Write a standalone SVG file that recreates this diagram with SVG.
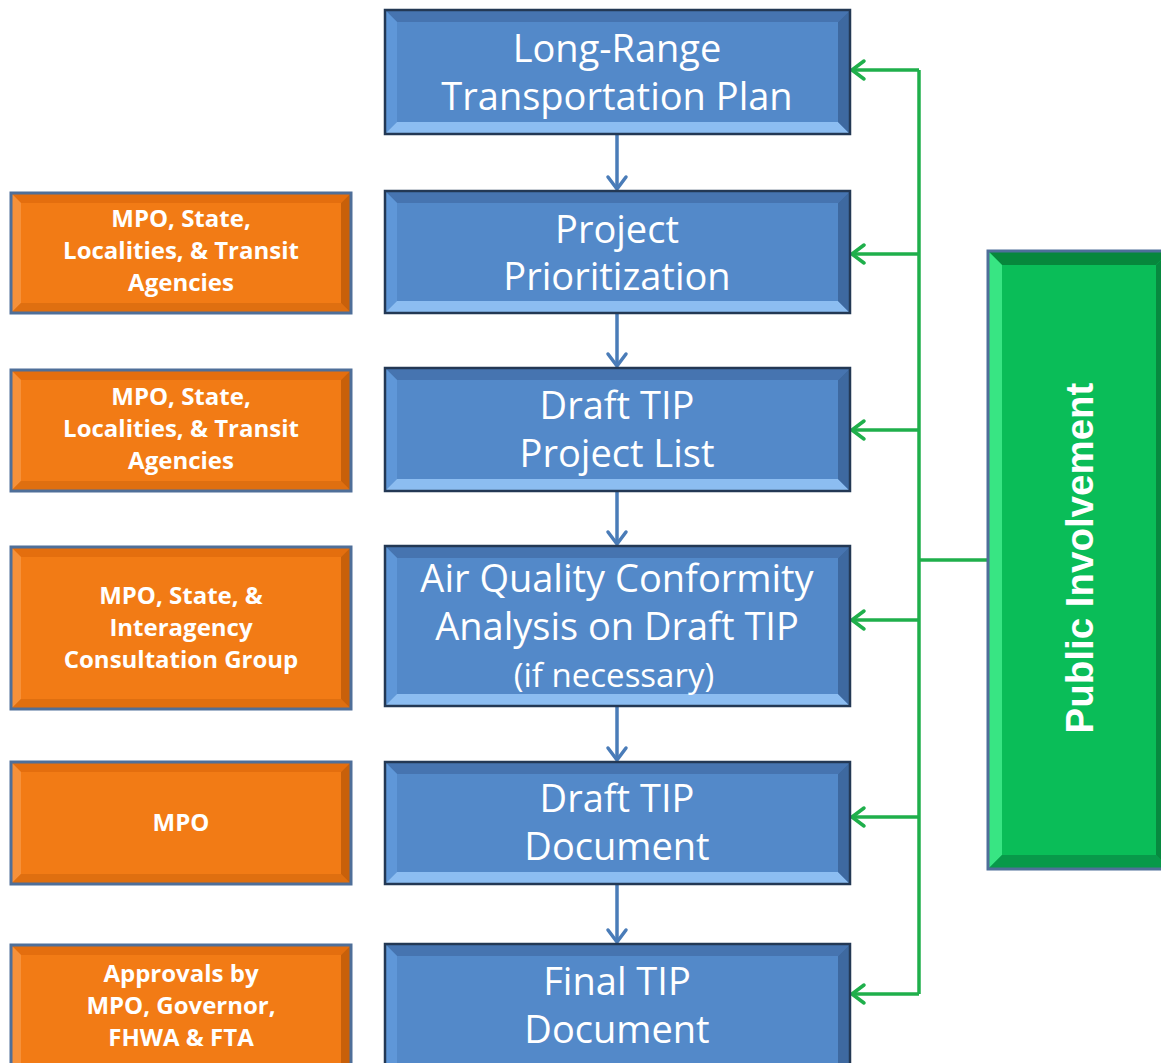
<svg xmlns="http://www.w3.org/2000/svg" width="1161" height="1063" viewBox="0 0 1161 1063">
<defs>
<style>
.blue .f{fill:#5389c9}
.blue .t{fill:#4674b0}
.blue .l{fill:#5f97d8}
.blue .b{fill:#8cbdf1}
.blue .r{fill:#3e69a0}
.blue .o{fill:none;stroke:#233854;stroke-width:2.5}
.org .f{fill:#f27b15}
.org .t{fill:#e46e0e}
.org .l{fill:#f6913a}
.org .b{fill:#df6f10}
.org .r{fill:#c8600a}
.org .o{fill:none;stroke:#4f6f99;stroke-width:3}
.grn .f{fill:#0abd58}
.grn .t{fill:#07873c}
.grn .l{fill:#38e583}
.grn .b{fill:#08994a}
.grn .r{fill:#07893f}
.grn .o{fill:none;stroke:#4f6f99;stroke-width:3}
.bt{font-family:"Open Sans","Noto Sans",sans-serif;font-size:38px;fill:#ffffff;text-anchor:middle}
.bs{font-size:33px}
.ot{font-family:"Open Sans","Noto Sans",sans-serif;font-weight:bold;font-size:24px;fill:#ffffff;text-anchor:middle}
.gt{font-family:"Liberation Sans",Arial,sans-serif;font-weight:bold;font-size:38.5px;fill:#ffffff;text-anchor:middle}
.gline{fill:none;stroke:#1faf4b;stroke-width:3.5}
.bline{fill:none;stroke:#4a7cb8;stroke-width:3.5}
</style>
<marker id="ga" viewBox="-16 -12 20 24" refX="0" refY="0" markerWidth="20" markerHeight="24" markerUnits="userSpaceOnUse" orient="auto" overflow="visible">
<path d="M-12,-9 L0,0 L-12,9" fill="none" stroke="#1faf4b" stroke-width="3.5" stroke-linecap="round" stroke-linejoin="round"/>
</marker>
<marker id="ba" viewBox="-16 -12 20 24" refX="0" refY="0" markerWidth="20" markerHeight="24" markerUnits="userSpaceOnUse" orient="auto" overflow="visible">
<path d="M-12,-9 L0,0 L-12,9" fill="none" stroke="#4a7cb8" stroke-width="3.5" stroke-linecap="round" stroke-linejoin="round"/>
</marker>
</defs>
<rect x="0" y="0" width="1161" height="1063" fill="#ffffff"/>

<g id="connectors">
<line class="bline" x1="617" y1="134" x2="617" y2="189" marker-end="url(#ba)"/>
<line class="bline" x1="617" y1="313" x2="617" y2="366" marker-end="url(#ba)"/>
<line class="bline" x1="617" y1="491" x2="617" y2="544" marker-end="url(#ba)"/>
<line class="bline" x1="617" y1="706" x2="617" y2="760" marker-end="url(#ba)"/>
<line class="bline" x1="617" y1="884" x2="617" y2="942" marker-end="url(#ba)"/>
<path class="gline" d="M919,70 V994"/>
<line class="gline" x1="988" y1="560" x2="919" y2="560"/>
<line class="gline" x1="919" y1="70" x2="852" y2="70" marker-end="url(#ga)"/>
<line class="gline" x1="919" y1="254" x2="852" y2="254" marker-end="url(#ga)"/>
<line class="gline" x1="919" y1="430" x2="852" y2="430" marker-end="url(#ga)"/>
<line class="gline" x1="919" y1="620" x2="852" y2="620" marker-end="url(#ga)"/>
<line class="gline" x1="919" y1="817" x2="852" y2="817" marker-end="url(#ga)"/>
<line class="gline" x1="919" y1="994" x2="852" y2="994" marker-end="url(#ga)"/>
</g>

<g id="lrtp" class="blue">
<rect class="f" x="385" y="10" width="465" height="124"/>
<polygon class="t" points="385,10 850,10 838,22 397,22"/>
<polygon class="l" points="385,10 397,22 397,122 385,134"/>
<polygon class="b" points="385,134 397,122 838,122 850,134"/>
<polygon class="r" points="850,10 850,134 838,122 838,22"/>
<rect class="o" x="385" y="10" width="465" height="124"/>
<text class="bt" x="617" y="62">Long-Range</text>
<text class="bt" x="617" y="110">Transportation Plan</text>
</g>

<g id="prioritization" class="blue">
<rect class="f" x="385" y="191" width="465" height="122"/>
<polygon class="t" points="385,191 850,191 838,203 397,203"/>
<polygon class="l" points="385,191 397,203 397,301 385,313"/>
<polygon class="b" points="385,313 397,301 838,301 850,313"/>
<polygon class="r" points="850,191 850,313 838,301 838,203"/>
<rect class="o" x="385" y="191" width="465" height="122"/>
<text class="bt" x="617" y="243">Project</text>
<text class="bt" x="617" y="290">Prioritization</text>
</g>

<g id="draft-list" class="blue">
<rect class="f" x="385" y="368" width="465" height="123"/>
<polygon class="t" points="385,368 850,368 838,380 397,380"/>
<polygon class="l" points="385,368 397,380 397,479 385,491"/>
<polygon class="b" points="385,491 397,479 838,479 850,491"/>
<polygon class="r" points="850,368 850,491 838,479 838,380"/>
<rect class="o" x="385" y="368" width="465" height="123"/>
<text class="bt" x="617" y="419">Draft TIP</text>
<text class="bt" x="617" y="467">Project List</text>
</g>

<g id="air-quality" class="blue">
<rect class="f" x="385" y="546" width="465" height="160"/>
<polygon class="t" points="385,546 850,546 838,558 397,558"/>
<polygon class="l" points="385,546 397,558 397,694 385,706"/>
<polygon class="b" points="385,706 397,694 838,694 850,706"/>
<polygon class="r" points="850,546 850,706 838,694 838,558"/>
<rect class="o" x="385" y="546" width="465" height="160"/>
<text class="bt" x="617" y="592">Air Quality Conformity</text>
<text class="bt" x="617" y="640">Analysis on Draft TIP</text>
<text class="bt bs" x="614" y="687">(if necessary)</text>
</g>

<g id="draft-doc" class="blue">
<rect class="f" x="385" y="762" width="465" height="122"/>
<polygon class="t" points="385,762 850,762 838,774 397,774"/>
<polygon class="l" points="385,762 397,774 397,872 385,884"/>
<polygon class="b" points="385,884 397,872 838,872 850,884"/>
<polygon class="r" points="850,762 850,884 838,872 838,774"/>
<rect class="o" x="385" y="762" width="465" height="122"/>
<text class="bt" x="617" y="812">Draft TIP</text>
<text class="bt" x="617" y="860">Document</text>
</g>

<g id="final-doc" class="blue">
<rect class="f" x="385" y="944" width="465" height="131"/>
<polygon class="t" points="385,944 850,944 838,956 397,956"/>
<polygon class="l" points="385,944 397,956 397,1063 385,1075"/>
<polygon class="b" points="385,1075 397,1063 838,1063 850,1075"/>
<polygon class="r" points="850,944 850,1075 838,1063 838,956"/>
<rect class="o" x="385" y="944" width="465" height="131"/>
<text class="bt" x="617" y="995">Final TIP</text>
<text class="bt" x="617" y="1043">Document</text>
</g>

<g id="who-prioritization" class="org">
<rect class="f" x="11" y="193" width="340" height="120"/>
<polygon class="t" points="11,193 351,193 341,203 21,203"/>
<polygon class="l" points="11,193 21,203 21,303 11,313"/>
<polygon class="b" points="11,313 21,303 341,303 351,313"/>
<polygon class="r" points="351,193 351,313 341,303 341,203"/>
<rect class="o" x="11" y="193" width="340" height="120"/>
<text class="ot" x="181" y="227">MPO, State,</text>
<text class="ot" x="181" y="259">Localities, &amp; Transit</text>
<text class="ot" x="181" y="291">Agencies</text>
</g>

<g id="who-draft-list" class="org">
<rect class="f" x="11" y="370" width="340" height="121"/>
<polygon class="t" points="11,370 351,370 341,380 21,380"/>
<polygon class="l" points="11,370 21,380 21,481 11,491"/>
<polygon class="b" points="11,491 21,481 341,481 351,491"/>
<polygon class="r" points="351,370 351,491 341,481 341,380"/>
<rect class="o" x="11" y="370" width="340" height="121"/>
<text class="ot" x="181" y="405">MPO, State,</text>
<text class="ot" x="181" y="437">Localities, &amp; Transit</text>
<text class="ot" x="181" y="469">Agencies</text>
</g>

<g id="who-air-quality" class="org">
<rect class="f" x="11" y="547" width="340" height="162"/>
<polygon class="t" points="11,547 351,547 341,557 21,557"/>
<polygon class="l" points="11,547 21,557 21,699 11,709"/>
<polygon class="b" points="11,709 21,699 341,699 351,709"/>
<polygon class="r" points="351,547 351,709 341,699 341,557"/>
<rect class="o" x="11" y="547" width="340" height="162"/>
<text class="ot" x="181" y="604">MPO, State, &amp;</text>
<text class="ot" x="181" y="636">Interagency</text>
<text class="ot" x="181" y="668">Consultation Group</text>
</g>

<g id="who-draft-doc" class="org">
<rect class="f" x="11" y="762" width="340" height="122"/>
<polygon class="t" points="11,762 351,762 341,772 21,772"/>
<polygon class="l" points="11,762 21,772 21,874 11,884"/>
<polygon class="b" points="11,884 21,874 341,874 351,884"/>
<polygon class="r" points="351,762 351,884 341,874 341,772"/>
<rect class="o" x="11" y="762" width="340" height="122"/>
<text class="ot" x="181" y="831">MPO</text>
</g>

<g id="who-final-doc" class="org">
<rect class="f" x="11" y="945" width="340" height="130"/>
<polygon class="t" points="11,945 351,945 341,955 21,955"/>
<polygon class="l" points="11,945 21,955 21,1065 11,1075"/>
<polygon class="b" points="11,1075 21,1065 341,1065 351,1075"/>
<polygon class="r" points="351,945 351,1075 341,1065 341,955"/>
<rect class="o" x="11" y="945" width="340" height="130"/>
<text class="ot" x="181" y="982">Approvals by</text>
<text class="ot" x="181" y="1014">MPO, Governor,</text>
<text class="ot" x="181" y="1046">FHWA &amp; FTA</text>
</g>

<g id="public-involvement" class="grn">
<rect class="f" x="988" y="251" width="182" height="618"/>
<polygon class="t" points="988,251 1170,251 1156,265 1002,265"/>
<polygon class="l" points="988,251 1002,265 1002,855 988,869"/>
<polygon class="b" points="988,869 1002,855 1156,855 1170,869"/>
<polygon class="r" points="1170,251 1170,869 1156,855 1156,265"/>
<rect class="o" x="988" y="251" width="182" height="618"/>
<text class="gt" transform="translate(1093,558) rotate(-90)" x="0" y="0">Public Involvement</text>
</g>
</svg>
